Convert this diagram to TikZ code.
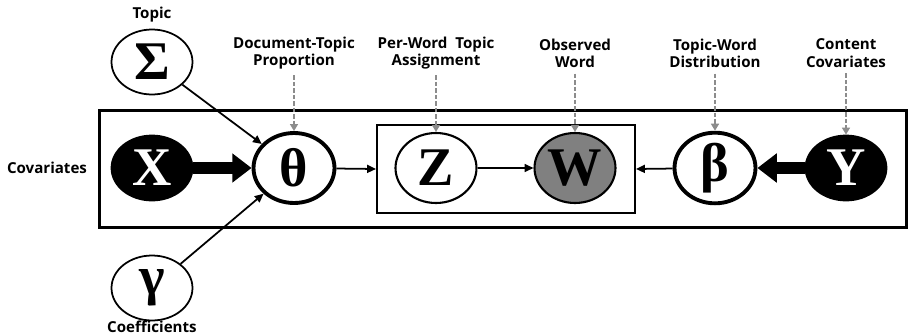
\documentclass[tikz,border=0pt]{standalone}
\usepackage{fontspec}
\setmainfont{Liberation Serif}
\setsansfont{Open Sans}
\usetikzlibrary{arrows.meta, shapes.geometric}

\tikzset{
  var/.style={ellipse, draw, line width=1pt, minimum width=1.62cm,
    minimum height=1.3cm, inner sep=0pt,
    font=\fontsize{31}{31}\selectfont\bfseries},
  latent/.style={var, minimum height=1.4cm},
  obs/.style={var, fill=black, text=white},
  lbl/.style={align=center, font=\sffamily\bfseries\fontsize{8.6}{9.8}\selectfont},
  plate/.style={draw, rectangle, inner sep=0pt},
  hint/.style={draw=black!45, line width=1pt, dash pattern=on 2.5pt off 1.2pt,
    -{Triangle[length=4pt,width=4.5pt]}},
  thin/.style={line width=1pt, -{Triangle[length=5pt,width=4.5pt]}},
  fat/.style={line width=7pt, -{Triangle[length=11pt,width=16pt]}}
}

\begin{document}
\begin{tikzpicture}[x=0.02cm, y=-0.02cm]
\useasboundingbox (0,0) rectangle (910,335);
% plates
\node[plate, line width=1.8pt, minimum width=16.14cm, minimum height=2.34cm] at (503,169) (D) {};
\node[plate, line width=1.2pt, minimum width=5.16cm, minimum height=1.76cm] at (506,169) (N) {};
% variables
\node[var] at (152,62) (S) {Σ};
\node[obs] at (152,168) (X) {X};
\node[var] at (152,288) (G) {γ};
\node[latent, line width=2.2pt] at (294,168) (T) {θ};
\node[latent, line width=1.2pt] at (436,168) (Z) {Z};
\node[latent, line width=1.2pt, fill=black!50] at (575,168) (W) {W};
\node[latent, line width=2.2pt] at (715,168) (B) {β};
\node[obs] at (846,168) (Y) {Y};
% captions
\node[lbl] at (152,15) (LS) {Topic};
\node[lbl] at (47,168) (LX) {Covariates};
\node[lbl] at (152,327) (LG) {Coefficients};
\node[lbl] at (294,53) (LT) {Document-Topic\\Proportion};
\node[lbl] at (436,53) (LZ) {Per-Word\ \ Topic\\Assignment};
\node[lbl] at (575,53) (LW) {Observed\\Word};
\node[lbl] at (715,53) (LB) {Topic-Word\\Distribution};
\node[lbl] at (846,53) (LY) {Content\\Covariates};
% edges
\draw[fat] (X) -- (T);
\draw[fat] (Y) -- (B);
\draw[thin] (S) -- (T);
\draw[thin] (G) -- (T);
\draw[thin] (T) -- (N.west);
\draw[thin] (Z) -- (W);
\draw[thin] (B) -- (N.east);
\draw[hint] (LT) -- (T);
\draw[hint] (LZ) -- (Z);
\draw[hint] (LW) -- (W);
\draw[hint] (LB) -- (B);
\draw[hint] (LY) -- (Y);
\end{tikzpicture}
\end{document}
